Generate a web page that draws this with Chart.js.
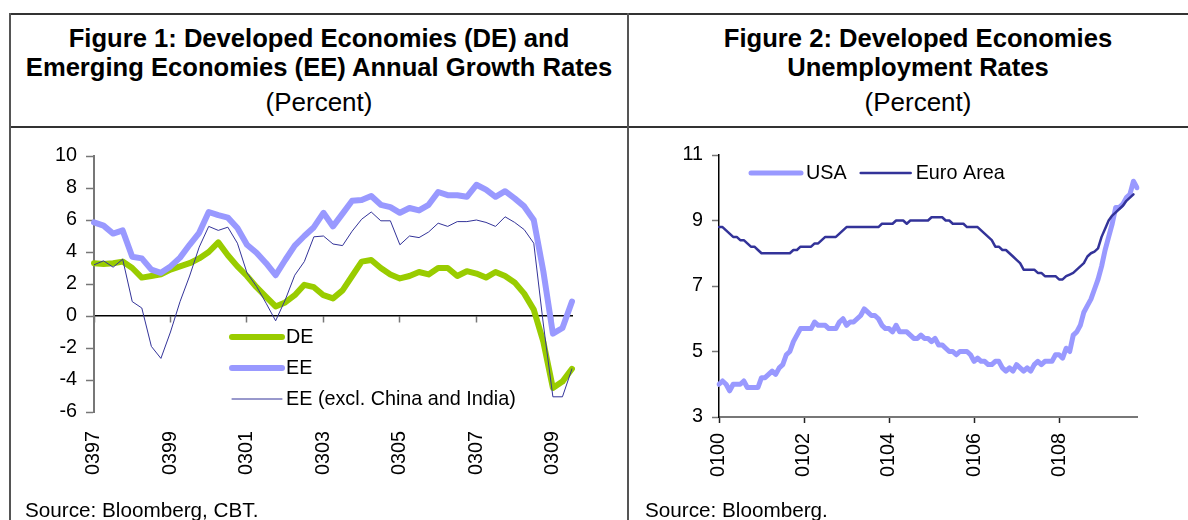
<!DOCTYPE html>
<html>
<head>
<meta charset="utf-8">
<script src="https://cdn.jsdelivr.net/npm/chart.js@4.4.1/dist/chart.umd.min.js"></script>
<style>
  body { margin: 0; background: #fff; }
  #page { position: relative; width: 1188px; height: 520px; overflow: hidden; font-family: "Liberation Sans", Arial, sans-serif; color: #000; }
  .hline { position: absolute; height: 2px; background: #333; }
  .vline { position: absolute; width: 2px; background: #555; }
  .title { position: absolute; top: 24px; text-align: center; font-weight: bold; font-size: 25.6px; line-height: 29px; }
  .unit { position: absolute; top: 87px; text-align: center; font-size: 26px; line-height: 30px; }
  .source { position: absolute; top: 498px; font-size: 20.7px; line-height: 24px; }
  canvas { position: absolute; }
</style>
</head>
<body>
<div id="page">
  <div class="hline" style="left:10px; top:13px; width:1178px;"></div>
  <div class="hline" style="left:10px; top:126px; width:1178px;"></div>
  <div class="vline" style="left:9px; top:13px; height:507px;"></div>
  <div class="vline" style="left:627px; top:13px; height:507px;"></div>

  <div class="title" style="left:10px; width:618px;">Figure 1: Developed Economies (DE) and<br>Emerging Economies (EE) Annual Growth Rates</div>
  <div class="unit" style="left:10px; width:618px;">(Percent)</div>
  <div class="title" style="left:629px; width:578px;">Figure 2: Developed Economies<br>Unemployment Rates</div>
  <div class="unit" style="left:629px; width:578px;">(Percent)</div>

  <canvas id="fig1" width="617" height="371" style="left:10px; top:129px;"></canvas>
  <canvas id="fig2" width="558" height="371" style="left:630px; top:129px;"></canvas>

  <div class="source" style="left:25px;">Source: Bloomberg, CBT.</div>
  <div class="source" style="left:645px;">Source: Bloomberg.</div>
</div>
<script>
// Figure 1: quarterly growth rates, 03/97 .. 09/09
const deGrowth = [3.3, 3.25, 3.3, 3.4, 3.0, 2.4, 2.5, 2.6, 2.9, 3.1, 3.3, 3.6, 4.0, 4.6, 3.8, 3.1,
  2.5, 1.8, 1.2, 0.6, 0.85, 1.3, 1.95, 1.8, 1.3, 1.1, 1.6, 2.5, 3.4, 3.5, 3.0, 2.6,
  2.35, 2.5, 2.75, 2.6, 3.0, 3.0, 2.5, 2.8, 2.65, 2.4, 2.75, 2.5, 2.1, 1.4, 0.4, -1.6,
  -4.5, -4.1, -3.3];
const eeGrowth = [5.85, 5.65, 5.15, 5.35, 3.7, 3.6, 2.9, 2.7, 3.1, 3.65, 4.45, 5.2, 6.5, 6.3, 6.15, 5.5,
  4.45, 3.95, 3.3, 2.55, 3.5, 4.4, 5.0, 5.55, 6.45, 5.6, 6.4, 7.2, 7.25, 7.5, 6.95, 6.8,
  6.45, 6.75, 6.6, 6.95, 7.75, 7.55, 7.55, 7.45, 8.2, 7.9, 7.45, 7.8, 7.35, 6.85, 6.0, 2.8,
  -1.1, -0.75, 0.9];
const eeExclGrowth = [3.2, 3.45, 3.05, 3.55, 0.9, 0.5, -1.9, -2.65, -1.0, 0.9, 2.5, 4.3, 5.6, 5.35, 5.55, 4.55,
  2.7, 1.85, 0.8, -0.3, 1.0, 2.55, 3.4, 4.95, 5.0, 4.5, 4.4, 5.3, 6.05, 6.5, 5.95, 5.95,
  4.45, 5.0, 4.9, 5.25, 5.8, 5.6, 5.9, 5.9, 6.0, 5.85, 5.6, 6.2, 5.85, 5.4, 4.55, -0.5,
  -5.05, -5.05, -3.3];

// Figure 2: monthly unemployment rates, 01/00 .. 11/09
const usaUnemp = [4.0, 4.1, 4.0, 3.8, 4.0, 4.0, 4.0, 4.1, 3.9, 3.9, 3.9, 3.9,
  4.2, 4.2, 4.3, 4.4, 4.3, 4.5, 4.6, 4.9, 5.0, 5.3, 5.5, 5.7,
  5.7, 5.7, 5.7, 5.9, 5.8, 5.8, 5.8, 5.7, 5.7, 5.7, 5.9, 6.0,
  5.8, 5.9, 5.9, 6.0, 6.1, 6.3, 6.2, 6.1, 6.1, 6.0, 5.8, 5.7,
  5.7, 5.6, 5.8, 5.6, 5.6, 5.6, 5.5, 5.4, 5.4, 5.5, 5.4, 5.4,
  5.3, 5.4, 5.2, 5.2, 5.1, 5.0, 5.0, 4.9, 5.0, 5.0, 5.0, 4.9,
  4.7, 4.8, 4.7, 4.7, 4.6, 4.6, 4.7, 4.7, 4.5, 4.4, 4.5, 4.4,
  4.6, 4.5, 4.4, 4.5, 4.4, 4.6, 4.7, 4.6, 4.7, 4.7, 4.7, 4.9,
  4.9, 4.8, 5.1, 5.0, 5.5, 5.6, 5.8, 6.2, 6.4, 6.6, 6.9, 7.2,
  7.6, 8.1, 8.5, 8.9, 9.4, 9.4, 9.5, 9.7, 9.8, 10.2, 10.0];
const euroUnemp = [8.8, 8.8, 8.7, 8.6, 8.5, 8.5, 8.4, 8.4, 8.3, 8.2, 8.2, 8.1,
  8.0, 8.0, 8.0, 8.0, 8.0, 8.0, 8.0, 8.0, 8.0, 8.1, 8.1, 8.2,
  8.2, 8.2, 8.2, 8.3, 8.3, 8.4, 8.5, 8.5, 8.5, 8.5, 8.6, 8.7,
  8.8, 8.8, 8.8, 8.8, 8.8, 8.8, 8.8, 8.8, 8.8, 8.8, 8.9, 8.9,
  8.9, 8.9, 9.0, 9.0, 9.0, 8.9, 9.0, 9.0, 9.0, 9.0, 9.0, 9.0,
  9.1, 9.1, 9.1, 9.1, 9.0, 9.0, 8.9, 8.9, 8.9, 8.9, 8.8, 8.8,
  8.8, 8.8, 8.7, 8.6, 8.5, 8.4, 8.2, 8.2, 8.1, 8.1, 8.0, 7.9,
  7.8, 7.7, 7.5, 7.5, 7.5, 7.5, 7.4, 7.4, 7.3, 7.3, 7.3, 7.3,
  7.2, 7.2, 7.3, 7.35, 7.4, 7.5, 7.6, 7.7, 7.9, 8.0, 8.05, 8.15,
  8.5, 8.75, 9.0, 9.15, 9.25, 9.35, 9.45, 9.6, 9.7, 9.8];

// "mmyy" labels, a tick every 2 years
function periodLabels(startYear, startMonth, count, step) {
  const out = [];
  let y = startYear, m = startMonth;
  for (let k = 0; k < count; k++) {
    out.push(String(m).padStart(2, '0') + String(y % 100).padStart(2, '0'));
    m += step;
    while (m > 12) { m -= 12; y++; }
  }
  return out;
}
const quarters = periodLabels(1997, 3, deGrowth.length, 3);
const months = periodLabels(2000, 1, usaUnemp.length, 1);
const quarterTickEvery = 8;
const monthTickEvery = 24;

Chart.defaults.font.family = '"Liberation Sans", Arial, sans-serif';
Chart.defaults.color = '#000';

// legend drawn inside the plot area
const insideLegend = {
  id: 'insideLegend',
  afterDraw(chart, args, opts) {
    const ctx = chart.ctx;
    ctx.save();
    ctx.font = opts.font;
    ctx.textBaseline = 'middle';
    ctx.fillStyle = '#000';
    let x = opts.x, y = opts.y;
    chart.data.datasets.forEach(ds => {
      ctx.strokeStyle = ds.borderColor;
      ctx.lineWidth = ds.borderWidth;
      ctx.lineCap = 'round';
      ctx.beginPath();
      ctx.moveTo(x, y);
      ctx.lineTo(x + opts.lineLength, y);
      ctx.stroke();
      ctx.fillText(ds.label, x + opts.lineLength + opts.textGap, y + 1);
      if (opts.direction === 'row') {
        x += opts.lineLength + opts.textGap + ctx.measureText(ds.label).width + opts.itemGap;
      } else {
        y += opts.rowStep;
      }
    });
    ctx.restore();
  }
};

const tickFont = { size: 19.8 };
const legendFont = '19.8px "Liberation Sans", Arial, sans-serif';

new Chart(document.getElementById('fig1'), {
  type: 'line',
  data: {
    labels: quarters,
    datasets: [
      { label: 'DE', data: deGrowth, borderColor: '#99cc00', borderWidth: 6, order: 3 },
      { label: 'EE', data: eeGrowth, borderColor: '#9999ff', borderWidth: 6, order: 2 },
      { label: 'EE (excl. China and India)', data: eeExclGrowth, borderColor: '#333399', borderWidth: 1, order: 1 }
    ]
  },
  options: {
    responsive: false,
    animation: false,
    layout: { padding: { top: 27, right: 55, left: 0, bottom: 0 } },
    elements: {
      point: { radius: 0 },
      line: { tension: 0, borderJoinStyle: 'round', borderCapStyle: 'round' }
    },
    plugins: {
      legend: { display: false },
      tooltip: { enabled: false },
      insideLegend: { x: 222, y: 208, rowStep: 31, lineLength: 50, textGap: 4, font: legendFont }
    },
    scales: {
      x: {
        type: 'category',
        position: 'bottom',
        grid: { display: false, drawTicks: false },
        border: { display: false },
        ticks: {
          autoSkip: false, minRotation: 90, maxRotation: 90, padding: 19, font: tickFont,
          callback: function (v, i) { return i % quarterTickEvery === 0 ? this.getLabelForValue(v) : ''; }
        },
        afterFit: s => { s.height = 88; }
      },
      x0: {
        type: 'category',
        axis: 'x',
        position: { y: 0 },
        grid: {
          drawOnChartArea: false, tickLength: 6, tickWidth: 1.5,
          tickColor: c => c.index % quarterTickEvery === 0 ? '#777' : 'rgba(0,0,0,0)'
        },
        border: { color: '#000', width: 1.5 },
        ticks: { display: false, autoSkip: false }
      },
      y: {
        min: -6,
        max: 10,
        grid: { drawOnChartArea: false, tickLength: 8, tickColor: '#777', tickWidth: 1.5 },
        border: { color: '#777', width: 2 },
        ticks: { stepSize: 2, padding: 9, font: tickFont },
        afterFit: s => { s.width = 84; }
      }
    }
  },
  plugins: [insideLegend]
});

new Chart(document.getElementById('fig2'), {
  type: 'line',
  data: {
    labels: months,
    datasets: [
      { label: 'USA', data: usaUnemp, borderColor: '#9999ff', borderWidth: 5, order: 2 },
      { label: 'Euro Area', data: euroUnemp, borderColor: '#333399', borderWidth: 2.5, order: 1 }
    ]
  },
  options: {
    responsive: false,
    animation: false,
    layout: { padding: { top: 26, right: 51, left: 0, bottom: 0 } },
    elements: {
      point: { radius: 0 },
      line: { tension: 0, borderJoinStyle: 'round', borderCapStyle: 'round' }
    },
    plugins: {
      legend: { display: false },
      tooltip: { enabled: false },
      insideLegend: { x: 121, y: 44, direction: 'row', lineLength: 50, textGap: 5, itemGap: 14, font: legendFont }
    },
    scales: {
      x: {
        type: 'category',
        grid: {
          drawOnChartArea: false, tickLength: 6, tickWidth: 1.5,
          tickColor: c => c.index % monthTickEvery === 0 ? '#222' : 'rgba(0,0,0,0)'
        },
        border: { color: '#777', width: 2 },
        ticks: {
          autoSkip: false, minRotation: 90, maxRotation: 90, padding: 10, font: tickFont,
          callback: function (v, i) { return i % monthTickEvery === 0 ? this.getLabelForValue(v) : ''; }
        },
        afterFit: s => { s.height = 83; }
      },
      y: {
        min: 3,
        max: 11,
        grid: { drawOnChartArea: false, tickLength: 7, tickColor: '#777', tickWidth: 1.5 },
        border: { color: '#000', width: 1.5 },
        ticks: { stepSize: 2, padding: 9, font: tickFont },
        afterFit: s => { s.width = 89; }
      }
    }
  },
  plugins: [insideLegend]
});
</script>
</body>
</html>
